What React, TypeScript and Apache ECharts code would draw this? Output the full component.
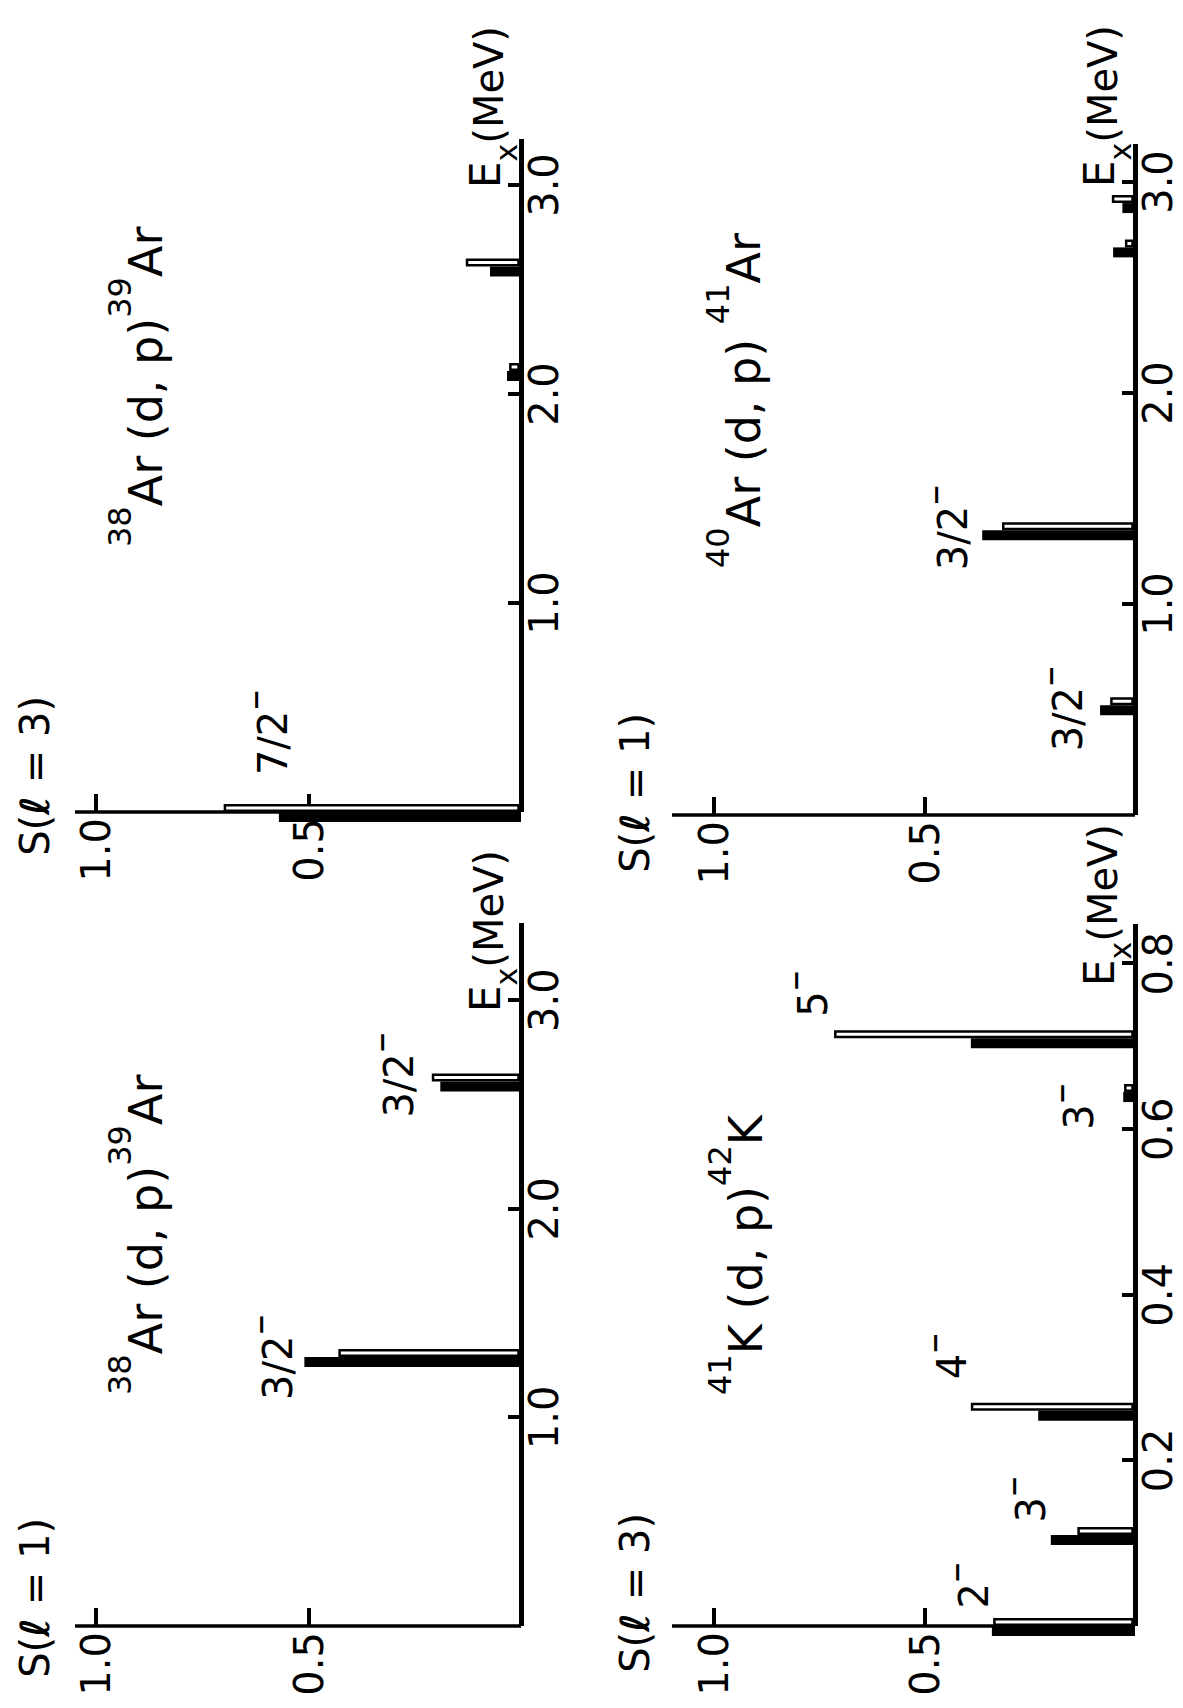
import { useEffect, useRef } from 'react';
import * as echarts from 'echarts';

const FONT = "'DejaVu Sans', 'Liberation Sans', sans-serif";

// Excitation energies (MeV) and spectroscopic factors S of the populated states.
// Each state is drawn as a filled bar (lower-energy side) and an open bar beside it.

// 38Ar(d,p)39Ar, l = 1 transfer
const ar39L1Ex = [1.29, 2.61];
const ar39L1Filled = [0.51, 0.19];
const ar39L1Open = [0.43, 0.21];
const ar39L1Jpi = ['3/2', '3/2'];

// 38Ar(d,p)39Ar, l = 3 transfer
const ar39L3Ex = [0, 2.11, 2.61];
const ar39L3Filled = [0.57, 0.033, 0.073];
const ar39L3Open = [0.7, 0.028, 0.13];
const ar39L3Jpi = ['7/2', '', ''];

// 41K(d,p)42K, l = 3 transfer
const k42Ex = [0, 0.11, 0.26, 0.645, 0.71];
const k42Filled = [0.34, 0.2, 0.23, 0.028, 0.39];
const k42Open = [0.337, 0.137, 0.39, 0.026, 0.715];
const k42Jpi = ['2', '3', '4', '3', '5'];

// 40Ar(d,p)41Ar, l = 1 transfer
const ar41Ex = [0.52, 1.35, 2.69, 2.9];
const ar41Filled = [0.083, 0.363, 0.052, 0.03];
const ar41Open = [0.059, 0.316, 0.024, 0.055];
const ar41Jpi = ['3/2', '3/2', '', ''];

// Tick values
const exTicksMeV = [1, 2, 3];
const exTicksK = [0.2, 0.4, 0.6, 0.8];
const sTicks = [0.5, 1];

type Panel = {
  ex: number[];
  filled: number[];
  open: number[];
  jpi: string[];
  exMax: number;
  sMax: number;
  exTicks: number[];
  box: [number, number, number, number];
  title: string;
  titleAt: [number, number];
  lValue: string;
  sNameAt: [number, number];
  exNameAt: [number, number];
  nudge: [number, number][];
};

// Layout of the four panels (drawn landscape, the page is turned afterwards)
const panels: Panel[] = [
  {
    ex: ar39L1Ex, filled: ar39L1Filled, open: ar39L1Open, jpi: ar39L1Jpi,
    exMax: 3.37, sMax: 1.05, exTicks: exTicksMeV,
    box: [82, 75, 703, 446],
    title: '{s|38}{m|Ar (d, p)}{s|39}{m|Ar}', titleAt: [313, 169],
    lValue: '1', sNameAt: [190, 35],
    exNameAt: [696, 521],
    nudge: [[0, -6], [7, -13]],
  },
  {
    ex: ar39L3Ex, filled: ar39L3Filled, open: ar39L3Open, jpi: ar39L3Jpi,
    exMax: 3.22, sMax: 1.05, exTicks: exTicksMeV,
    box: [896, 75, 673, 446],
    title: '{s|38}{m|Ar (d, p)}{s|39}{m|Ar}', titleAt: [1161, 169],
    lValue: '3', sNameAt: [1012, 35],
    exNameAt: [1520, 521],
    nudge: [[80, 69], [0, 0], [0, 0]],
  },
  {
    ex: k42Ex, filled: k42Filled, open: k42Open, jpi: k42Jpi,
    exMax: 0.848, sMax: 1.1, exTicks: exTicksK,
    box: [82, 672, 702, 463],
    title: '{s|41}{m|K (d, p)}{s|42}{m|K}', titleAt: [313, 769],
    lValue: '3', sNameAt: [195, 635],
    exNameAt: [722, 1135],
    nudge: [[41, 2], [36, 0], [55, 1], [-14, -24], [45, -1]],
  },
  {
    ex: ar41Ex, filled: ar41Filled, open: ar41Open, jpi: ar41Jpi,
    exMax: 3.18, sMax: 1.1, exTicks: exTicksMeV,
    box: [893, 672, 671, 463],
    title: '{s|40}{m|Ar (d, p) }{s|41}{m|Ar}', titleAt: [1140, 767],
    lValue: '1', sNameAt: [995, 635],
    exNameAt: [1521, 1135],
    nudge: [[-3, -12], [3, -9], [0, 0], [0, 0]],
  },
];

const FILLED_W = 10;
const OPEN_W = 8;
const OPEN_LW = 2.5;
const AXIS_W = 5;

const titleRich = {
  m: { fontSize: 46, fontFamily: FONT, fill: '#000', verticalAlign: 'bottom' },
  s: { fontSize: 32, fontFamily: FONT, fill: '#000', verticalAlign: 'bottom', padding: [0, 0, 33, 0] },
};

const stateRich = {
  n: { fontSize: 40, fontFamily: FONT, fill: '#000', verticalAlign: 'bottom' },
  m: { fontSize: 26, fontWeight: 'bold', fontFamily: FONT, fill: '#000', verticalAlign: 'bottom', padding: [0, 0, 24, 0] },
};

const exNameRich = {
  e: { fontSize: 42, fontFamily: FONT, fill: '#000', verticalAlign: 'bottom', padding: [0, 0, 15, 0] },
  x: { fontSize: 30, fontFamily: FONT, fill: '#000', verticalAlign: 'bottom' },
  u: { fontSize: 40, fontFamily: FONT, fill: '#000', verticalAlign: 'bottom', padding: [0, 0, 12, 0] },
};

const sNameRich = {
  a: { fontSize: 40, fontFamily: FONT, fill: '#000' },
  l: { fontSize: 40, fontFamily: FONT, fontWeight: 'bold', fontStyle: 'italic', fill: '#000' },
};

const fmt = (v: number) => v.toFixed(1);

function renderPeaks(p: Panel) {
  return (params: any, api: any) => {
    const i = params.dataIndex;
    const ex = api.value(0);
    const base = api.coord([ex, 0]);
    const topF = api.coord([ex, api.value(1)]);
    const topO = api.coord([ex, api.value(2)]);
    const x = base[0];
    const y0 = base[1] - AXIS_W / 2;
    const children: any[] = [
      {
        type: 'rect',
        shape: { x: x - FILLED_W, y: topF[1], width: FILLED_W, height: base[1] - topF[1] },
        style: { fill: '#000' },
      },
      {
        type: 'rect',
        shape: {
          x: x + OPEN_LW / 2,
          y: topO[1] + OPEN_LW / 2,
          width: OPEN_W - OPEN_LW,
          height: Math.max(0, y0 - topO[1] - OPEN_LW / 2),
        },
        style: { fill: '#fff', stroke: '#000', lineWidth: OPEN_LW },
      },
    ];
    const lab = p.jpi[i];
    if (lab) {
      const [dx, dy] = p.nudge[i];
      const yTop = Math.min(topF[1], topO[1]);
      children.push({
        type: 'text',
        x: x + dx,
        y: yTop + dy,
        style: {
          text: `{n|${lab}}{m|\u2212}`,
          rich: stateRich,
          align: 'center',
          verticalAlign: 'bottom',
          fill: '#000',
        },
      });
    }
    return { type: 'group', children };
  };
}

function buildOption() {
  const graphic: any[] = [];
  panels.forEach((p) => {
    graphic.push({
      type: 'text',
      x: p.titleAt[0],
      y: p.titleAt[1],
      silent: true,
      style: { text: p.title, rich: titleRich, align: 'left', verticalAlign: 'bottom', fill: '#000' },
    });
    graphic.push({
      type: 'text',
      x: p.sNameAt[0],
      y: p.sNameAt[1],
      silent: true,
      style: {
        text: `{a|S(}{l|\u2113}{a| = ${p.lValue})}`,
        rich: sNameRich,
        fill: '#000',
        align: 'right',
        verticalAlign: 'middle',
      },
    });
    graphic.push({
      type: 'text',
      x: p.exNameAt[0],
      y: p.exNameAt[1],
      silent: true,
      style: {
        text: '{e|E}{x|x}{u|(MeV)}',
        rich: exNameRich,
        align: 'left',
        verticalAlign: 'bottom',
        fill: '#000',
      },
    });
  });

  return {
    animation: false,
    backgroundColor: '#fff',
    textStyle: { fontFamily: FONT, color: '#000' },
    grid: panels.map((p) => ({
      left: p.box[0],
      top: p.box[1],
      width: p.box[2],
      height: p.box[3],
      containLabel: false,
    })),
    xAxis: panels.map((p, i) => ({
      type: 'value',
      gridIndex: i,
      min: 0,
      max: p.exMax,
      axisLine: { show: true, lineStyle: { color: '#000', width: AXIS_W, cap: 'butt' } },
      axisTick: {
        show: true,
        inside: true,
        length: 13,
        customValues: p.exTicks,
        lineStyle: { color: '#000', width: 4 },
      },
      axisLabel: {
        show: true,
        customValues: p.exTicks,
        fontSize: 40,
        fontFamily: FONT,
        color: '#000',
        margin: 3,
        formatter: fmt,
      },
      splitLine: { show: false },
    })),
    yAxis: panels.map((p, i) => ({
      type: 'value',
      gridIndex: i,
      min: 0,
      max: p.sMax,
      axisLine: { show: true, lineStyle: { color: '#000', width: 3.5, cap: 'butt' } },
      axisTick: {
        show: true,
        inside: true,
        length: 18,
        customValues: sTicks,
        lineStyle: { color: '#000', width: 4 },
      },
      axisLabel: {
        show: true,
        customValues: sTicks,
        fontSize: 40,
        fontFamily: FONT,
        color: '#000',
        margin: 6,
        formatter: fmt,
      },
      splitLine: { show: false },
    })),
    series: panels.map((p, i) => ({
      type: 'custom',
      xAxisIndex: i,
      yAxisIndex: i,
      clip: false,
      renderItem: renderPeaks(p),
      data: p.ex.map((e, k) => [e, p.filled[k], p.open[k]]),
    })),
    graphic,
  };
}

export default function App() {
  const ref = useRef<HTMLDivElement>(null);
  useEffect(() => {
    if (!ref.current) return;
    const chart = echarts.init(ref.current, undefined, { renderer: 'svg' });
    chart.setOption(buildOption() as any);
    return () => chart.dispose();
  }, []);
  return (
    <div
      style={{
        position: 'fixed',
        left: 0,
        top: 0,
        width: 1183,
        height: 1708,
        overflow: 'hidden',
        background: '#fff',
      }}
    >
      <div
        ref={ref}
        style={{
          position: 'absolute',
          left: 0,
          top: 0,
          width: 1708,
          height: 1183,
          transformOrigin: '0 0',
          transform: 'translateY(1708px) rotate(-90deg)',
        }}
      />
    </div>
  );
}
